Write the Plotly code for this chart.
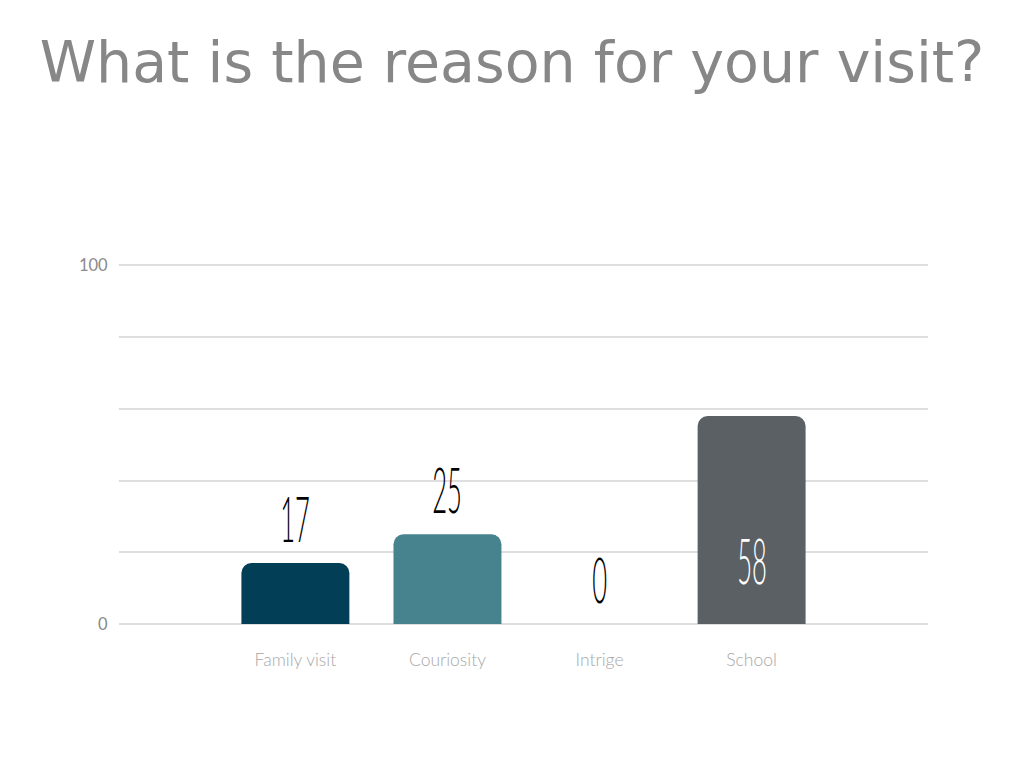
import plotly.graph_objects as go

# Survey answers
categories = ["Family visit", "Couriosity", "Intrige", "School"]
counts = [17, 25, 0, 58]
bar_colors = ["#023f56", "#47828f", "#8fb3bd", "#5b6064"]

y_ticks = [0, 20, 40, 60, 80, 100]
y_tick_text = ["0", "", "", "", "", "100"]

title_text = "What is the reason for your visit?"

# Values that are shown inside the bar instead of above it
inside_threshold = 50

fig = go.Figure(
    go.Bar(
        x=list(range(len(categories))),
        y=counts,
        marker=dict(color=bar_colors, cornerradius=10, line=dict(width=0)),
        width=0.71,
        hoverinfo="skip",
    )
)

value_font = "Lato, DejaVu Sans, sans-serif"
for i, v in enumerate(counts):
    inside = v >= inside_threshold
    fig.add_annotation(
        x=i,
        y=0 if inside else v,
        xref="x",
        yref="y",
        text=str(v),
        showarrow=False,
        yanchor="bottom",
        yshift=24 if inside else 5,
        font=dict(family=value_font, size=64, color="#ffffff" if inside else "#000000", weight=300),
    )

fig.update_layout(
    width=1024,
    height=768,
    paper_bgcolor="#ffffff",
    plot_bgcolor="#ffffff",
    margin=dict(l=119, r=96, t=264, b=144),
    showlegend=False,
    title=dict(
        text=title_text,
        x=0.5,
        xanchor="center",
        xref="container",
        yref="container",
        y=1 - 62 / 768,
        yanchor="middle",
        font=dict(family="DejaVu Sans", size=57, color="#878787"),
    ),
    xaxis=dict(
        tickmode="array",
        tickvals=list(range(len(categories))),
        ticktext=categories,
        range=[-1.16, 4.16],
        showgrid=False,
        zeroline=False,
        showline=False,
        ticks="outside",
        ticklen=20,
        tickcolor="rgba(0,0,0,0)",
        tickfont=dict(family="Lato", size=17.5, color="#a8a8a8", weight=300),
        fixedrange=True,
    ),
    yaxis=dict(
        range=[0, 100.4],
        tickmode="array",
        tickvals=y_ticks,
        ticktext=y_tick_text,
        showgrid=True,
        gridcolor="#dedede",
        gridwidth=2,
        zeroline=True,
        zerolinecolor="#dedede",
        zerolinewidth=2,
        showline=False,
        ticks="outside",
        ticklen=7,
        tickcolor="rgba(0,0,0,0)",
        tickfont=dict(family="Lato", size=16.5, color="#8a8a8a"),
        fixedrange=True,
    ),
)

# Narrow the value labels horizontally to get tall, slim digits
post_script = """
document.querySelectorAll('text.annotation-text').forEach(function(t){
  t.style.transformBox = 'fill-box';
  t.style.transformOrigin = 'center';
  t.style.transform = 'scaleX(0.4)';
});
"""

fig.write_html("out.html", config={"displayModeBar": False}, post_script=post_script)
